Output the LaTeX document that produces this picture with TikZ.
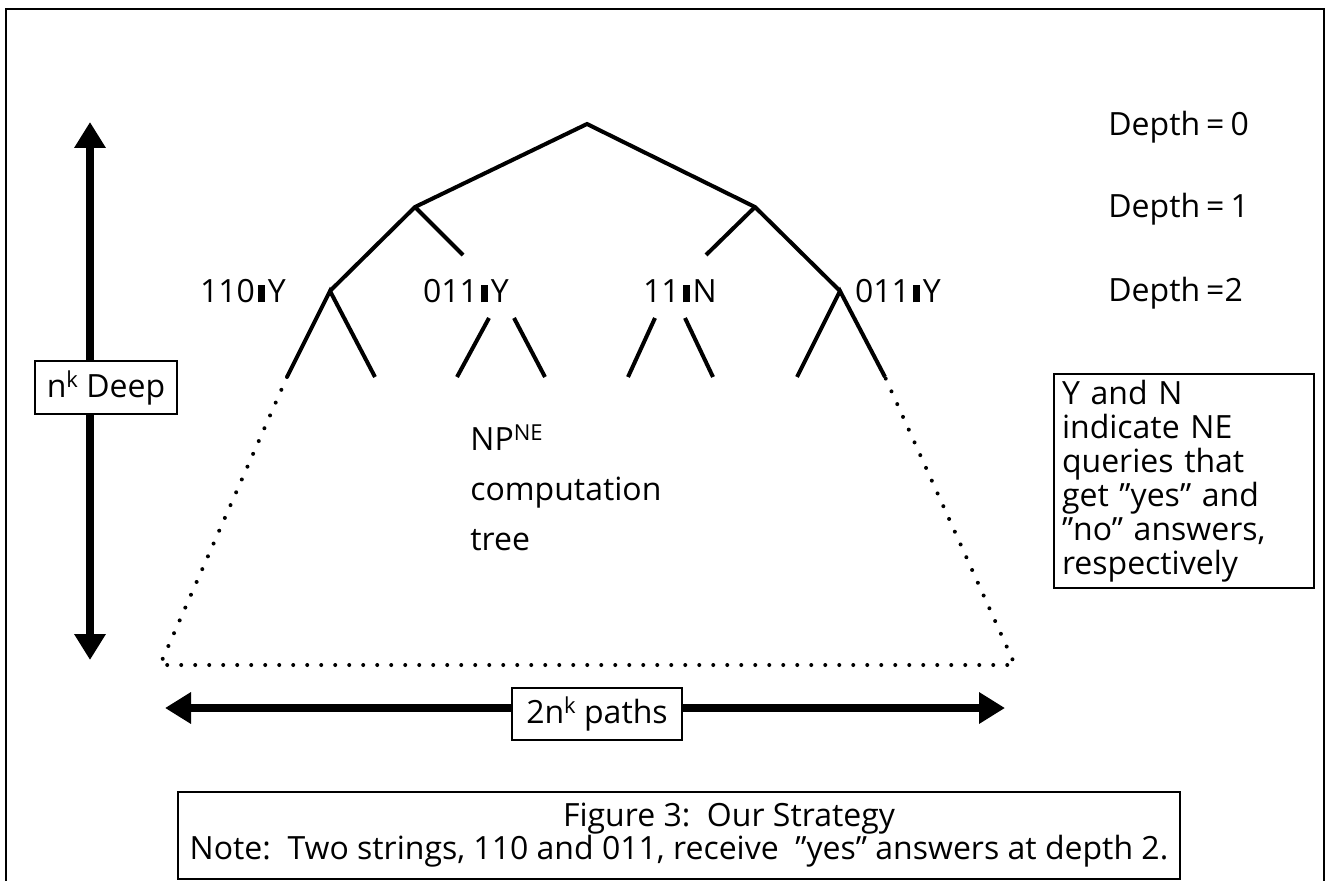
\documentclass[tikz,border=0pt]{standalone}
\usepackage{fontspec}
\setmainfont{Open Sans}
\usetikzlibrary{arrows.meta}
\newcommand{\qbar}{\hspace{1.5pt}\rule[0pt]{3.5pt}{8.5pt}\hspace{1.5pt}}
\newcommand{\supr}[1]{\raisebox{5pt}{\fontsize{11}{11}\selectfont #1}}
\begin{document}
\begin{tikzpicture}[x=0.5pt,y=-0.5pt,
  font=\fontsize{16}{17}\selectfont,
  branch/.style={line width=2pt},
  dots/.style={line width=2pt, line cap=round, dash pattern=on 0pt off 7pt},
  bigarrow/.style={line width=4pt, {Triangle[length=13pt,width=15pt]}-{Triangle[length=13pt,width=15pt]}},
  labelbox/.style={draw, line width=1pt, fill=white, inner sep=0pt}]
\useasboundingbox (0,0) rectangle (1326,881);
\draw[line width=1pt] (6,881) -- (6,9) -- (1324,9) -- (1324,881);

% tree
\coordinate (r) at (587,124);
\coordinate (a) at (415,207);
\coordinate (b) at (755,207);
\coordinate (aa) at (330,291);
\coordinate (bb) at (840,291);
\coordinate (ab) at (463,255);
\coordinate (ba) at (706,255);
\node (qaa) at (243,291) {110\qbar Y};
\node (qab) at (466,291) {011\qbar Y};
\node (qba) at (680,291) {11\qbar N};
\node (qbb) at (898,291) {011\qbar Y};
\coordinate (ab0) at (489,318);
\coordinate (ab1) at (514,318);
\coordinate (ba0) at (655,318);
\coordinate (ba1) at (685,318);
\coordinate (l1) at (287,377);
\coordinate (l2) at (375,377);
\coordinate (l3) at (457,377);
\coordinate (l4) at (545,377);
\coordinate (l5) at (628,377);
\coordinate (l6) at (713,377);
\coordinate (l7) at (797,377);
\coordinate (l8) at (885,377);
\draw[branch] (aa) -- (a) -- (r) -- (b) -- (bb);
\draw[branch] (a) -- (ab);
\draw[branch] (b) -- (ba);
\draw[branch] (l1) -- (aa) -- (l2);
\draw[branch] (ab0) -- (l3);
\draw[branch] (ab1) -- (l4);
\draw[branch] (ba0) -- (l5);
\draw[branch] (ba1) -- (l6);
\draw[branch] (l7) -- (bb) -- (l8);
\coordinate (bl) at (160,665);
\coordinate (br) at (1015,665);
\draw[dots] (l1) -- (bl) -- (br) -- (l8);
\node[anchor=north west, align=left, inner sep=0pt, font=\fontsize{16}{25}\selectfont] (np) at (470,424)
  {NP\supr{NE}\\computation\\tree};

% depth labels
\node[anchor=west, inner sep=0pt] (d0) at (1108,127) {Depth\hspace{3pt}=\hspace{3pt}0};
\node[anchor=west, inner sep=0pt] (d1) at (1108,209) {Depth\hspace{3pt}=\hspace{3pt}1};
\node[anchor=west, inner sep=0pt] (d2) at (1108,293) {Depth\hspace{3pt}=2};

% arrows
\coordinate (vt) at (90,122);
\coordinate (vb) at (90,660);
\draw[bigarrow] (vt) -- (vb);
\node[labelbox, minimum width=71pt, minimum height=26.5pt] (deep) at (106,388) {n\supr{k} Deep};
\coordinate (hl) at (165,708);
\coordinate (hr) at (1005,708);
\draw[bigarrow] (hl) -- (hr);
\node[labelbox, minimum width=85pt, minimum height=26pt] (paths) at (597,714) {2n\supr{k} paths};

% legend and caption
\node[labelbox, anchor=north west, align=left, text width=122pt, inner xsep=4pt, inner ysep=3pt,
  minimum height=105pt] (legend) at (1053,373)
  {Y and N\\indicate NE\\queries that\\get ”yes” and\\”no” answers,\\respectively};
\node[labelbox, align=center, minimum width=501pt, minimum height=43.5pt, font=\fontsize{16}{16.5}\selectfont] (caption) at (679,835)
  {\hspace*{50pt}Figure 3:\ \ Our Strategy\\Note:\ \ Two strings, 110 and 011, receive\ \ ”yes” answers at depth 2.};
\end{tikzpicture}
\end{document}
